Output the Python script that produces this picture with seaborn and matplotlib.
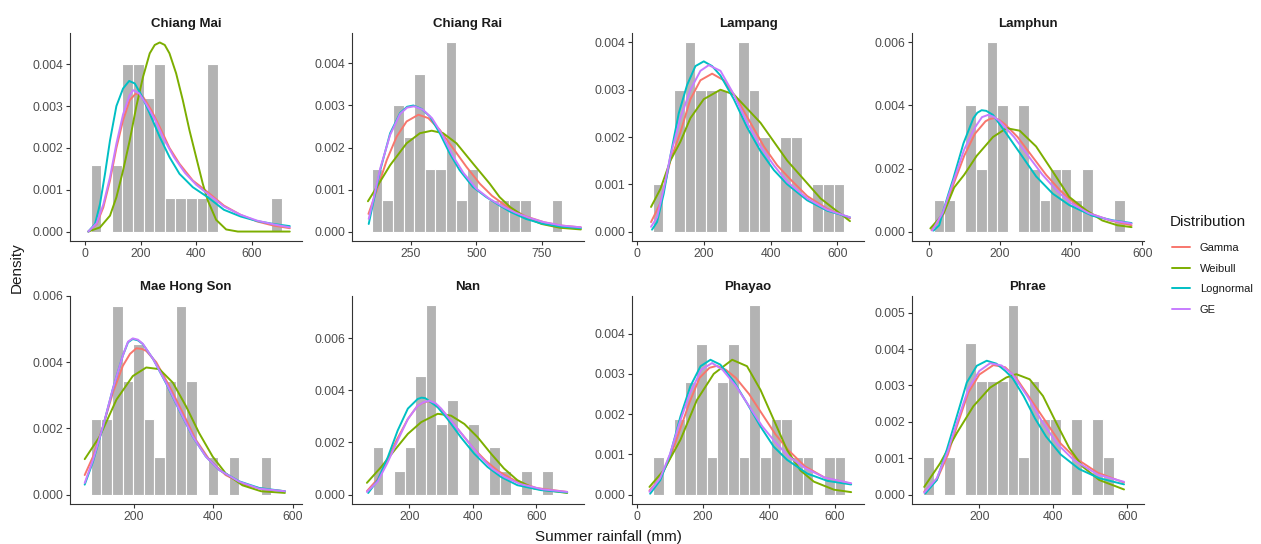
import numpy as np
import pandas as pd
import matplotlib
matplotlib.use("Agg")
import matplotlib.pyplot as plt
from matplotlib.lines import Line2D
import seaborn as sns

# Stations (panel order) and fitted distributions.
stations = ["Chiang Mai", "Chiang Rai", "Lampang", "Lamphun",
            "Mae Hong Son", "Nan", "Phayao", "Phrae"]
dists = ["Gamma", "Weibull", "Lognormal", "GE"]

# Histogram: left edge of first bin, bin width (mm), density per bin.
bin_start = {"Chiang Mai": 19.9, "Chiang Rai": 99.75, "Lampang": 47.05,
             "Lamphun": 13.9, "Mae Hong Son": 91.45, "Nan": 84.3,
             "Phayao": 49.1, "Phrae": 47.9}
bin_width = {"Chiang Mai": 38.2, "Chiang Rai": 40.5, "Lampang": 31.9,
             "Lamphun": 29.8, "Mae Hong Son": 26.7, "Nan": 33.4,
             "Phayao": 32.4, "Phrae": 28.6}
bar_density = {
    "Chiang Mai": [0.0016, 0, 0.0016, 0.004, 0.004, 0.0032, 0.004, 0.0008, 0.0008,
                   0.0008, 0.0008, 0.004, 0, 0, 0, 0, 0, 0.0008],
    "Chiang Rai": [0.0015, 0.00075, 0.003, 0.00225, 0.00375, 0.0015, 0.0015, 0.0045, 0.00075,
                   0.0015, 0, 0.00075, 0.00075, 0.00075, 0.00075, 0, 0, 0.00075],
    "Lampang": [0.001, 0, 0.003, 0.004, 0.003, 0.003, 0.003, 0, 0.004, 0.003, 0.002, 0,
                0.002, 0.002, 0, 0.001, 0.001, 0.001],
    "Lamphun": [0.001, 0.001, 0, 0.004, 0.002, 0.006, 0.004, 0, 0.004, 0.002, 0.001, 0.002,
                0.002, 0.001, 0.002, 0, 0, 0.001],
    "Mae Hong Son": [0.00228, 0.00228, 0.0057, 0.00342, 0.00456, 0.00228, 0.00114, 0.00342,
                     0.0057, 0.00342, 0, 0.00114, 0, 0.00114, 0, 0, 0.00114],
    "Nan": [0.00181, 0, 0.00091, 0.00181, 0.00454, 0.00726, 0.00272, 0.00363, 0, 0.00272, 0,
            0.00181, 0.00091, 0, 0.00091, 0, 0.00091],
    "Phayao": [0.00094, 0, 0.00188, 0.0028, 0.00375, 0.00094, 0.0028, 0.00375, 0.00094, 0.0047,
               0.00094, 0.00188, 0.00188, 0.00094, 0.00094, 0, 0.00094, 0.00094],
    "Phrae": [0.00104, 0, 0.00104, 0, 0.00416, 0.00312, 0.00312, 0.00312, 0.0052, 0.00104,
              0.00312, 0.00208, 0.00208, 0, 0.00208, 0, 0.00208, 0.00104],
}

# Fitted density curves: (rainfall mm, density).
chiang_mai = {
    "Gamma": ([12, 42, 66, 90, 113, 137, 161, 183, 209, 239, 269, 304, 340, 388, 442, 500, 560,
               620, 680, 737],
              [0, 0.00018, 0.00058, 0.00122, 0.002, 0.00266, 0.00314, 0.0033, 0.00322, 0.0029,
               0.0025, 0.002, 0.00162, 0.00122, 0.00094, 0.00062, 0.0004, 0.00024, 0.00014,
               0.00008]),
    "Weibull": ([12, 54, 90, 113, 137, 161, 185, 209, 233, 251, 269, 287, 304, 328, 352, 376, 400,
                 424, 442, 472, 508, 550, 737],
                [0, 0.0001, 0.00038, 0.00082, 0.00146, 0.00218, 0.003, 0.0037, 0.00426, 0.00446,
                 0.00452, 0.00446, 0.00426, 0.00378, 0.00314, 0.00242, 0.00178, 0.00114, 0.00074,
                 0.00028, 0.00005, 0, 0]),
    "Lognormal": ([12, 36, 54, 72, 90, 113, 137, 159, 179, 203, 233, 269, 304, 340, 388, 442, 500,
                   560, 620, 680, 737],
                  [0, 0.00018, 0.00066, 0.00138, 0.00218, 0.003, 0.00342, 0.0036, 0.00354, 0.00326,
                   0.00282, 0.00226, 0.00178, 0.00138, 0.00106, 0.00082, 0.00052, 0.00036, 0.00025,
                   0.00018, 0.00013]),
    "GE": ([12, 42, 66, 90, 113, 137, 160, 173, 195, 220, 250, 285, 320, 360, 400, 442, 500, 560,
            620, 680, 737],
           [0, 0.0002, 0.00065, 0.0013, 0.0021, 0.0028, 0.00325, 0.00338, 0.0033, 0.00305, 0.0027,
            0.0022, 0.00178, 0.0014, 0.00112, 0.0009, 0.0006, 0.0004, 0.00026, 0.00017, 0.0001]),
}
chiang_rai = {
    "Gamma": ([87, 119, 157, 195, 233, 278, 316, 360, 411, 462, 513, 560, 620, 690, 760, 830, 900],
              [0.00042, 0.00098, 0.0017, 0.00226, 0.00262, 0.00278, 0.0027, 0.00242, 0.00198,
               0.00154, 0.00114, 0.00085, 0.00058, 0.00036, 0.00022, 0.00014, 0.0001]),
    "Weibull": ([85, 119, 170, 233, 284, 329, 373, 424, 487, 551, 589, 630, 690, 750, 820, 900],
                [0.00072, 0.00106, 0.00158, 0.0021, 0.00234, 0.0024, 0.00234, 0.0021, 0.00162,
                 0.00114, 0.00082, 0.00058, 0.00033, 0.00018, 0.00009, 0.00005]),
    "Lognormal": ([88, 107, 132, 170, 208, 235, 259, 290, 322, 360, 398, 436, 487, 538, 589, 630,
                   690, 750, 820, 900],
                  [0.00018, 0.00074, 0.00146, 0.00234, 0.00282, 0.00297, 0.003, 0.00292, 0.00274,
                   0.00234, 0.00186, 0.00146, 0.00106, 0.00082, 0.00062, 0.00047, 0.0003, 0.00019,
                   0.00012, 0.00008]),
    "GE": ([88, 107, 132, 170, 208, 235, 262, 295, 330, 370, 410, 450, 500, 550, 600, 650, 700,
            760, 830, 900],
           [0.0003, 0.0008, 0.0015, 0.0023, 0.0028, 0.00295, 0.00298, 0.0029, 0.0027, 0.0023,
            0.0018, 0.0014, 0.00102, 0.00078, 0.0006, 0.00045, 0.00033, 0.00022, 0.00014, 0.0001]),
}
lampang = {
    "Gamma": ([42, 70, 100, 130, 160, 190, 225, 260, 300, 340, 380, 420, 460, 510, 570, 638],
              [0.0002, 0.0006, 0.0015, 0.0021, 0.0028, 0.0032, 0.00334, 0.0032, 0.0028, 0.0023,
               0.0018, 0.0014, 0.0011, 0.00075, 0.00048, 0.00028]),
    "Weibull": ([42, 70, 100, 130, 160, 200, 250, 290, 330, 370, 410, 450, 500, 550, 590, 638],
                [0.00052, 0.0009, 0.0015, 0.0019, 0.0024, 0.0028, 0.0030, 0.0029, 0.0026, 0.0023,
                 0.0019, 0.0015, 0.0011, 0.0007, 0.00048, 0.00022]),
    "Lognormal": ([45, 60, 80, 100, 125, 150, 175, 200, 225, 250, 290, 330, 370, 410, 450, 510,
                   570, 638],
                  [0.00004, 0.0002, 0.0008, 0.0016, 0.0025, 0.0031, 0.0035, 0.0036, 0.0035, 0.0033,
                   0.0028, 0.0022, 0.0017, 0.0013, 0.001, 0.00066, 0.00044, 0.0003]),
    "GE": ([42, 60, 80, 100, 130, 160, 190, 215, 250, 290, 330, 370, 410, 450, 510, 570, 638],
           [0.0001, 0.0003, 0.0009, 0.0016, 0.0024, 0.0030, 0.0034, 0.00352, 0.0034, 0.0029, 0.0023,
            0.0018, 0.0014, 0.00105, 0.0007, 0.00046, 0.0003]),
}
lamphun = {
    "Gamma": ([8, 40, 70, 100, 130, 160, 172, 185, 200, 215, 250, 290, 330, 370, 410, 460, 510,
               570],
              [0.00005, 0.0005, 0.0015, 0.0024, 0.0031, 0.0035, 0.00357, 0.0036, 0.00353, 0.0034,
               0.0030, 0.0024, 0.0018, 0.0013, 0.0009, 0.00055, 0.00035, 0.0002]),
    "Weibull": ([5, 42, 72, 100, 135, 181, 219, 256, 302, 349, 395, 442, 488, 530, 570],
                [0.0001, 0.00057, 0.0014, 0.0018, 0.0024, 0.003, 0.00328, 0.0032, 0.0027, 0.0019,
                 0.0011, 0.00068, 0.00035, 0.0002, 0.00014]),
    "Lognormal": ([14, 30, 42, 56, 70, 98, 126, 137, 149, 162, 181, 219, 256, 302, 349, 395, 460,
                   520, 570],
                  [0.00003, 0.0002, 0.00068, 0.0012, 0.0017, 0.0028, 0.0036, 0.00377, 0.00385,
                   0.00383, 0.0037, 0.0031, 0.0025, 0.00175, 0.0012, 0.00084, 0.0005, 0.00035,
                   0.00027]),
    "GE": ([10, 40, 70, 100, 130, 150, 167, 183, 200, 240, 280, 320, 360, 400, 450, 510, 570],
           [0.00003, 0.0006, 0.0016, 0.0026, 0.0033, 0.00363, 0.0037, 0.00364, 0.0035, 0.0030,
            0.0024, 0.0018, 0.0013, 0.0009, 0.00058, 0.00036, 0.00025]),
}
mae_hong_son = {
    "Gamma": ([76, 97, 122, 147, 172, 190, 206, 220, 231, 256, 289, 323, 356, 390, 431, 481, 530,
               580],
              [0.00059, 0.00115, 0.00206, 0.00308, 0.00389, 0.00425, 0.00442, 0.0044, 0.00434,
               0.004, 0.00328, 0.00247, 0.00165, 0.00105, 0.00059, 0.00028, 0.00016, 0.0001]),
    "Weibull": ([76, 114, 156, 197, 231, 264, 298, 331, 364, 398, 431, 473, 520, 580],
                [0.00107, 0.00176, 0.00287, 0.00358, 0.00384, 0.00379, 0.00338, 0.00267, 0.00186,
                 0.00115, 0.00064, 0.00028, 0.0001, 0.00005]),
    "Lognormal": ([76, 97, 122, 147, 172, 185, 197, 210, 222, 248, 281, 314, 348, 381, 415, 465,
                   515, 580],
                  [0.0003, 0.001, 0.00205, 0.0032, 0.0042, 0.0046, 0.0047, 0.00466, 0.00455,
                   0.0041, 0.00336, 0.00255, 0.00175, 0.00115, 0.00074, 0.0004, 0.0002, 0.0001]),
    "GE": ([76, 97, 122, 147, 172, 185, 197, 210, 222, 248, 281, 314, 348, 381, 415, 465, 515,
            580],
           [0.00035, 0.00105, 0.00206, 0.0032, 0.0042, 0.00462, 0.00472, 0.00468, 0.00456, 0.0041,
            0.00338, 0.00257, 0.00176, 0.00115, 0.00074, 0.00039, 0.00018, 0.0001]),
}
nan = {
    "Gamma": ([66, 100, 130, 160, 195, 225, 242, 258, 274, 290, 320, 360, 400, 440, 480, 530, 600,
               697],
              [0.00013, 0.0006, 0.0013, 0.0021, 0.0029, 0.0034, 0.00352, 0.00358, 0.00353, 0.0034,
               0.003, 0.0024, 0.0018, 0.0013, 0.0009, 0.00055, 0.00025, 0.0001]),
    "Weibull": ([66, 111, 153, 195, 237, 289, 331, 373, 415, 457, 498, 540, 593, 697],
                [0.00045, 0.00106, 0.0017, 0.00233, 0.00278, 0.0031, 0.00303, 0.00271, 0.0022,
                 0.00157, 0.001, 0.00055, 0.00023, 0.00006]),
    "Lognormal": ([70, 100, 132, 163, 195, 226, 238, 250, 289, 320, 362, 404, 446, 488, 540, 614,
                   697],
                  [0.00006, 0.00055, 0.00144, 0.00246, 0.0033, 0.00367, 0.00372, 0.0037, 0.00335,
                   0.0029, 0.0022, 0.00157, 0.00106, 0.00068, 0.00036, 0.00017, 0.00008]),
    "GE": ([66, 100, 130, 160, 195, 225, 245, 263, 282, 300, 340, 380, 420, 460, 500, 550, 620,
            697],
           [0.0001, 0.0005, 0.0012, 0.002, 0.0029, 0.0034, 0.00355, 0.0036, 0.00351, 0.0033,
            0.0027, 0.0021, 0.0015, 0.001, 0.00067, 0.0004, 0.0002, 0.0001]),
}
phayao = {
    "Gamma": ([38, 70, 100, 130, 160, 190, 220, 243, 270, 300, 340, 380, 420, 460, 510, 570, 650],
              [0.0001, 0.0004, 0.0009, 0.0016, 0.0023, 0.0029, 0.00315, 0.0032, 0.0031, 0.0029,
               0.0025, 0.002, 0.0015, 0.0011, 0.0007, 0.00042, 0.00027]),
    "Weibull": ([38, 81, 132, 182, 233, 289, 334, 375, 415, 456, 496, 537, 598, 650],
                [0.00019, 0.0006, 0.00136, 0.00235, 0.003, 0.00335, 0.00319, 0.0026, 0.00186,
                 0.0011, 0.0006, 0.00032, 0.00012, 0.00006]),
    "Lognormal": ([40, 71, 101, 132, 162, 193, 223, 253, 294, 334, 375, 415, 456, 517, 578, 650],
                  [0.00002, 0.00036, 0.001, 0.00194, 0.00269, 0.00319, 0.00335, 0.00323, 0.00281,
                   0.00227, 0.00169, 0.00119, 0.00086, 0.00052, 0.00034, 0.00025]),
    "GE": ([38, 70, 100, 130, 160, 195, 228, 260, 300, 340, 380, 420, 460, 510, 570, 650],
           [0.00007, 0.0004, 0.001, 0.0018, 0.0025, 0.0031, 0.00327, 0.0031, 0.0027, 0.0022, 0.0017,
            0.0013, 0.00095, 0.00066, 0.00042, 0.00028]),
}
phrae = {
    "Gamma": ([51, 85, 115, 140, 170, 200, 238, 270, 300, 340, 380, 420, 460, 520, 591],
              [0.00008, 0.0004, 0.0011, 0.0019, 0.0028, 0.0033, 0.00356, 0.0035, 0.0032, 0.0026,
               0.002, 0.0014, 0.001, 0.0006, 0.00033]),
    "Weibull": ([51, 94, 139, 184, 229, 273, 300, 336, 372, 408, 443, 479, 524, 591],
                [0.00021, 0.00086, 0.00169, 0.00243, 0.00294, 0.00322, 0.00331, 0.00317, 0.00271,
                 0.00197, 0.00128, 0.00077, 0.0004, 0.00014]),
    "Lognormal": ([54, 85, 112, 139, 166, 193, 220, 246, 270, 290, 320, 350, 380, 420, 470, 524, 591],
                  [0.00003, 0.0004, 0.00123, 0.00215, 0.00308, 0.00354, 0.00368, 0.0036, 0.0034,
                   0.0032, 0.0027, 0.0021, 0.0016, 0.0011, 0.0007, 0.00045, 0.00028]),
    "GE": ([51, 85, 115, 140, 170, 200, 229, 260, 290, 330, 370, 410, 455, 520, 591],
           [0.00005, 0.00045, 0.0012, 0.002, 0.0029, 0.0034, 0.00361, 0.00355, 0.0033, 0.0027,
            0.002, 0.0014, 0.00095, 0.00055, 0.00035]),
}
curves = {"Chiang Mai": chiang_mai, "Chiang Rai": chiang_rai, "Lampang": lampang,
          "Lamphun": lamphun, "Mae Hong Son": mae_hong_son, "Nan": nan,
          "Phayao": phayao, "Phrae": phrae}

# Tick labels per panel.
x_ticks = {"Chiang Mai": [0, 200, 400, 600], "Chiang Rai": [250, 500, 750],
           "Lampang": [0, 200, 400, 600], "Lamphun": [0, 200, 400, 600],
           "Mae Hong Son": [200, 400, 600], "Nan": [200, 400, 600],
           "Phayao": [0, 200, 400, 600], "Phrae": [200, 400, 600]}
y_ticks = {"Chiang Mai": [0, 0.001, 0.002, 0.003, 0.004],
           "Chiang Rai": [0, 0.001, 0.002, 0.003, 0.004],
           "Lampang": [0, 0.001, 0.002, 0.003, 0.004],
           "Lamphun": [0, 0.002, 0.004, 0.006],
           "Mae Hong Son": [0, 0.002, 0.004, 0.006],
           "Nan": [0, 0.002, 0.004, 0.006],
           "Phayao": [0, 0.001, 0.002, 0.003, 0.004],
           "Phrae": [0, 0.001, 0.002, 0.003, 0.004, 0.005]}

# Panel ranges (ggplot-style expanded limits).
x_lim = {"Chiang Mai": (-54, 781), "Chiang Rai": (24, 912), "Lampang": (-15, 680),
         "Lamphun": (-46.5, 605), "Mae Hong Son": (39, 623), "Nan": (19, 750),
         "Phayao": (-15, 689), "Phrae": (18, 645)}
y_top = {"Chiang Mai": 0.00452, "Chiang Rai": 0.0045, "Lampang": 0.004, "Lamphun": 0.006,
         "Mae Hong Son": 0.0057, "Nan": 0.00726, "Phayao": 0.0047, "Phrae": 0.0052}

palette = {"Gamma": "#F8766D", "Weibull": "#7CAE00", "Lognormal": "#00BFC4", "GE": "#C77CFF"}
BAR_GREY = "#B3B3B3"
AXIS_DARK = "#333333"
TICK_TEXT = "#4D4D4D"

sns.set_style("ticks")
plt.rcParams["font.family"] = ["Liberation Sans", "DejaVu Sans"]

W, H = 1261, 544
fig = plt.figure(figsize=(W / 100, H / 100), dpi=100)

# Panel geometry in pixels (left edge per column, top/bottom per row).
col_left = [70, 352, 632, 912]
row_top = [33, 296]
panel_w, panel_h = 232, 208

for i, name in enumerate(stations):
    r, c = divmod(i, 4)
    ax = fig.add_axes([col_left[c] / W, 1 - (row_top[r] + panel_h) / H,
                       panel_w / W, panel_h / H])

    heights = bar_density[name]
    n_bins = len(heights)
    lo = bin_start[name]
    centres = lo + bin_width[name] * (np.arange(n_bins) + 0.5)
    bars = pd.DataFrame({"rain": centres, "density": heights})
    sns.histplot(data=bars, x="rain", weights="density", binwidth=bin_width[name],
                 binrange=(lo, lo + bin_width[name] * n_bins), stat="count",
                 color=BAR_GREY, edgecolor="white", linewidth=0.8, alpha=1, ax=ax)

    df = pd.concat([pd.DataFrame({"x": xs, "y": ys, "Distribution": d})
                    for d, (xs, ys) in curves[name].items()], ignore_index=True)
    sns.lineplot(data=df, x="x", y="y", hue="Distribution", hue_order=dists,
                 palette=palette, estimator=None, linewidth=1.4, legend=False, ax=ax)

    top = y_top[name]
    ax.set_xlim(*x_lim[name])
    ax.set_ylim(-0.05 * top, 1.05 * top)
    ax.set_xticks(x_ticks[name])
    ax.set_yticks(y_ticks[name])
    ax.set_yticklabels([f"{v:.3f}" for v in y_ticks[name]])
    ax.set_xlabel("")
    ax.set_ylabel("")
    ax.set_title(name, fontsize=9.5, fontweight="bold", color="#1A1A1A", pad=4.5)

    sns.despine(ax=ax)
    for side in ["left", "bottom"]:
        ax.spines[side].set_color(AXIS_DARK)
        ax.spines[side].set_linewidth(0.8)
    ax.tick_params(axis="both", colors=AXIS_DARK, labelcolor=TICK_TEXT,
                   labelsize=8.8, length=3, width=0.8, pad=2)

fig.text(608 / W, 1 - 537 / H, "Summer rainfall (mm)", ha="center", va="center",
         fontsize=11, color="#1A1A1A")
fig.text(17 / W, 1 - 268 / H, "Density", ha="center", va="center", rotation=90,
         fontsize=11, color="#1A1A1A")

# Legend: title placed separately to match the taller ggplot spacing.
fig.text(1170 / W, 1 - 222 / H, "Distribution", ha="left", va="center",
         fontsize=11, color="#1A1A1A")
handles = [Line2D([], [], color=palette[d], linewidth=1.4) for d in dists]
leg = fig.legend(handles, dists, loc="upper left",
                 bbox_to_anchor=(1172 / W, 1 - 243 / H), frameon=False,
                 fontsize=8, handlelength=1.6, handletextpad=0.9,
                 labelspacing=0.95, borderpad=0, borderaxespad=0)
for t in leg.get_texts():
    t.set_color("#1A1A1A")

fig.savefig("out.png", dpi=100, facecolor="white")
